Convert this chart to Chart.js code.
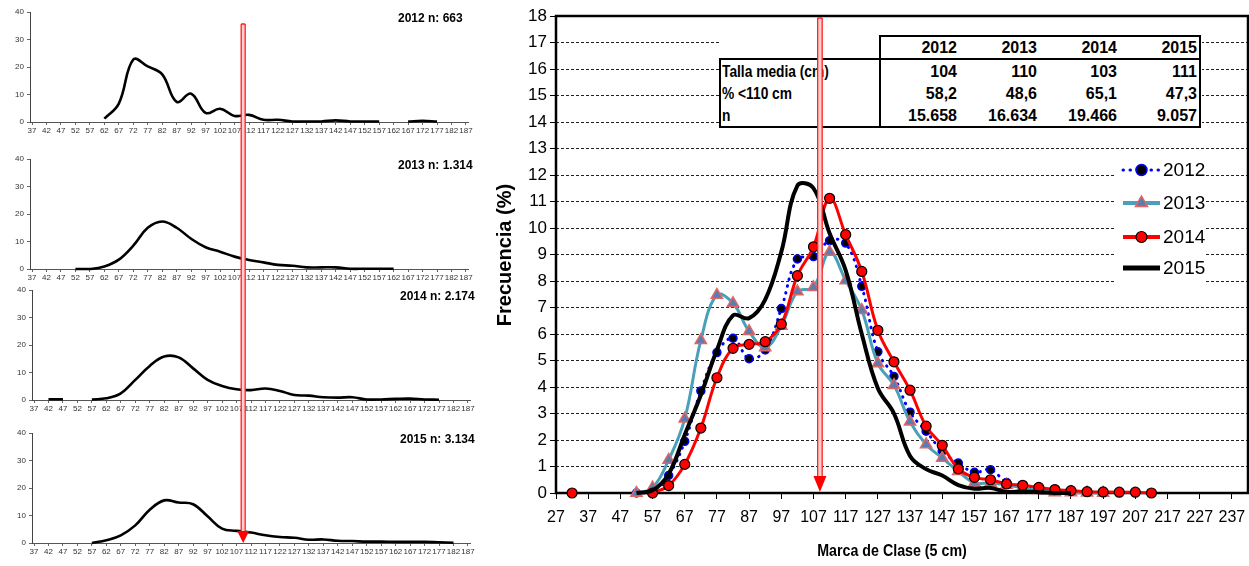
<!DOCTYPE html>
<html>
<head>
<meta charset="utf-8">
<script src="https://cdn.jsdelivr.net/npm/chart.js@4.4.0/dist/chart.umd.min.js"></script>
<style>
  html,body{margin:0;padding:0;background:#fff;}
  body{width:1249px;height:566px;position:relative;overflow:hidden;}
  canvas{position:absolute;}
  .cell{position:absolute;height:20px;line-height:20px;font-weight:bold;font-size:16px;color:#000;white-space:nowrap;
        font-family:'Liberation Sans Narrow','Arial Narrow','Liberation Sans',Arial,sans-serif;z-index:4;}
</style>
</head>
<body>
<canvas id="s0" width="490" height="141" style="left:0;top:1px"></canvas>
<canvas id="s1" width="490" height="141" style="left:0;top:148px"></canvas>
<canvas id="s2" width="490" height="141" style="left:2px;top:279px"></canvas>
<canvas id="s3" width="490" height="141" style="left:2px;top:422px"></canvas>
<canvas id="main" width="766" height="566" style="left:490px;top:0;z-index:1"></canvas>
<div style="position:absolute;left:719px;top:34px;width:483px;height:95px;background:#fff;z-index:2"></div>
<div style="position:absolute;left:879px;top:35px;width:322px;height:25px;border:2px solid #000;box-sizing:border-box;z-index:3"></div>
<div style="position:absolute;left:719px;top:58px;width:482px;height:70px;border:2px solid #000;box-sizing:border-box;z-index:3"></div>
<div style="position:absolute;left:879px;top:58px;width:2px;height:70px;background:#000;z-index:3"></div>
<div id="tbl"></div>
<canvas id="overlay" width="1249" height="566" style="left:0;top:0;z-index:10;pointer-events:none"></canvas>
<script>
// ---------------- DATA ----------------
const CLASSES_MAIN = [32,37,42,47,52,57,62,67,72,77,82,87,92,97,102,107,112,117,122,127,132,137,142,147,152,157,162,167,172,177,182,187,192,197,202,207,212];
const X_TICKS_MAIN = [27,37,47,57,67,77,87,97,107,117,127,137,147,157,167,177,187,197,207,217,227,237];
const Y_TICKS_MAIN = [0,1,2,3,4,5,6,7,8,9,10,11,12,13,14,15,16,17,18];
const YEARS = ['2012','2013','2014','2015'];
const F2012 = [null,null,null,null,0,0.05,0.66,1.95,3.85,5.3,5.84,5.07,5.4,6.96,8.83,8.92,9.52,9.43,7.8,5.33,4.4,3.05,2.33,1.58,1.13,0.78,0.88,0.4,0.25,0.19,0.1,0.06,0.04,0.02,null,null,null];
const F2013 = [null,null,null,null,0,0.2,1.25,2.8,5.76,7.47,7.16,6.1,5.49,6.3,7.6,7.76,9.09,8.02,6.9,4.89,4.07,2.69,1.83,1.32,0.82,0.38,0.38,0.3,0.2,0.1,0.02,0.02,0.01,0,null,null,null];
const F2014 = [0,null,null,null,null,0,0.28,1.08,2.45,4.35,5.46,5.61,5.71,6.37,8.2,9.29,11.12,9.75,8.36,6.14,4.95,3.88,2.52,1.8,0.91,0.59,0.5,0.34,0.29,0.21,0.13,0.09,0.05,0.04,0.03,0.03,0];
const F2015 = [null,null,null,null,0,0.1,0.72,2.2,3.7,5.4,6.7,6.6,7.3,9.1,11.6,11.5,9.8,8.4,6.0,3.95,3.0,1.4,0.9,0.66,0.3,0.16,0.19,0.04,0.06,0.03,0,0,null,null,null,null,null];

const CLASSES_SMALL = [37,42,47,52,57,62,67,72,77,82,87,92,97,102,107,112,117,122,127,132,137,142,147,152,157,162,167,172,177,182,187];
const SMALL_Y_TICKS = [0,10,20,30,40];
const N2012 = [null,null,null,null,null,1.2,6.7,22.7,20.2,17.3,7.3,10.3,3.3,4.8,2.2,2.6,0.8,0.8,0.2,0.2,0.2,0.6,0.2,0.2,0.2,null,0.2,0.4,0.2,null,null];
const N2013 = [null,null,null,0,0,0.9,3.4,8.5,15,17.3,15,11,7.9,6.3,4.5,3.3,2.4,1.5,1.2,0.6,0.6,0.6,0.1,0.1,0.1,0.1,null,null,null,null,null];
const N2014 = [null,0.3,0.3,null,0.2,0.6,2.4,7.3,12.4,15.8,15.5,11.5,7.3,5.1,3.9,3.6,4.2,3.3,1.8,1.6,1.0,0.85,1.0,0.2,0.2,0.4,0.5,0.2,0.1,null,null];
const N2015 = [null,null,null,null,0,1.0,2.8,6.4,12.1,15.5,14.7,14.1,9.7,5.2,4.4,3.8,2.8,2.2,1.9,1.2,1.3,0.8,0.7,0.5,0.5,0.4,0.4,0.4,0.25,0.1,null];
const SMALL_TITLES = ['2012 n: 663','2013 n: 1.314','2014 n: 2.174','2015 n: 3.134'];

const TABLE_ROW_LABELS = ['Talla media (cm)','% <110 cm','n'];
const TABLE_VALUES = [['104','110','103','111'],['58,2','48,6','65,1','47,3'],['15.658','16.634','19.466','9.057']];
const Y_TITLE = 'Frecuencia (%)';
const X_TITLE = 'Marca de Clase (5 cm)';
const CUTOFF_MAIN = 109;
const CUTOFF_SMALL = 109.3;

// ---------------- HELPERS ----------------
const NARROW = "'Liberation Sans Narrow','Arial Narrow','Liberation Sans',Arial,sans-serif";
const ARIAL = "'Liberation Sans',Arial,sans-serif";
function pts(xs, ys){ return xs.map((x,i)=>({x:x, y:ys[i]})); }

function drawMarker(ctx, style, x, y, r, fill, stroke, bw){
  ctx.save();
  ctx.beginPath();
  if(style==='triangle'){
    ctx.moveTo(x, y - r);
    ctx.lineTo(x + r*0.866, y + r*0.5);
    ctx.lineTo(x - r*0.866, y + r*0.5);
    ctx.closePath();
  } else {
    ctx.arc(x, y, r, 0, Math.PI*2);
  }
  ctx.fillStyle = fill; ctx.fill();
  ctx.lineWidth = bw; ctx.strokeStyle = stroke; ctx.stroke();
  ctx.restore();
}

// ---------------- SMALL CHARTS ----------------
const SMALL_SERIES = [N2012, N2013, N2014, N2015];
const smallCharts = [];
const smallTitlePlugin = {
  id:'smallTitle',
  afterDraw(chart){
    const c = chart.ctx, a = chart.chartArea;
    c.save();
    c.font = 'bold 12px ' + ARIAL;
    c.fillStyle = '#000';
    c.textAlign = 'left'; c.textBaseline = 'middle';
    c.fillText(chart.options.plugins.smallTitle.text, 398, a.top + 7);
    c.restore();
  }
};
SMALL_SERIES.forEach((vals, k)=>{
  const ch = new Chart(document.getElementById('s'+k), {
    type:'line',
    data:{datasets:[{data:pts(CLASSES_SMALL, vals), borderColor:'#000', borderWidth:2.6, tension:0.4,
                     pointRadius:0, spanGaps:false, fill:false, clip:false}]},
    options:{
      responsive:false, animation:false, devicePixelRatio:1,
      layout:{padding:{top:11, right:22, left:0, bottom:0}},
      plugins:{legend:{display:false}, tooltip:{enabled:false}, smallTitle:{text:SMALL_TITLES[k]}},
      scales:{
        x:{type:'linear', min:36.3, max:187.7,
           afterBuildTicks:s=>{ s.ticks = CLASSES_SMALL.map(v=>({value:v})); },
           afterFit:s=>{ s.height = 20; s.paddingLeft = 0; s.paddingRight = 0; },
           grid:{drawOnChartArea:false, drawTicks:true, tickLength:3, color:'#666'},
           border:{display:true, color:'#555', width:1},
           ticks:{font:{family:ARIAL, size:8}, color:'#333', padding:1, maxRotation:0, minRotation:0, autoSkip:false}},
        y:{min:0, max:40,
           afterBuildTicks:s=>{ s.ticks = SMALL_Y_TICKS.map(v=>({value:v})); },
           afterFit:s=>{ s.width = 30; s.paddingTop = 0; s.paddingBottom = 0; },
           grid:{drawOnChartArea:false, drawTicks:true, tickLength:3, color:'#666'},
           border:{display:true, color:'#444', width:1},
           ticks:{font:{family:ARIAL, size:8}, color:'#333', padding:3}}
      }
    },
    plugins:[smallTitlePlugin]
  });
  smallCharts.push(ch);
});

// ---------------- MAIN CHART ----------------
const STYLES = [
  {color:'#0000FF', width:3, dash:[0.5,6.5], marker:'circle', r:4, fill:'#000', stroke:'#0000FF', bw:1.5, legW:3},
  {color:'#4AA0B8', width:3, dash:[], marker:'triangle', r:6.5, fill:'#5A7DB0', stroke:'#E06666', bw:1.5, legW:4},
  {color:'#FF0000', width:3, dash:[], marker:'circle', r:5, fill:'#FF0000', stroke:'#000', bw:1.2, legW:4},
  {color:'#000000', width:4, dash:[], marker:null, r:0, fill:'#000', stroke:'#000', bw:0, legW:5}
];
const MAIN_SERIES = [F2012, F2013, F2014, F2015];
const ORDERS = [3,2,1,0];

const framePlugin = {
  id:'frame',
  beforeDatasetsDraw(chart){
    const c = chart.ctx, a = chart.chartArea;
    c.save();
    c.strokeStyle = '#000'; c.lineWidth = 2.5;
    c.strokeRect(a.left, a.top, a.right - a.left, a.bottom - a.top);
    c.restore();
  },
  afterDraw(chart){
    const c = chart.ctx;
    c.save();
    // legend
    c.fillStyle = '#fff';
    c.fillRect(625, 153, 89, 137);
    const ys = [170, 203, 237, 268];
    chart.data.datasets.forEach((ds, i)=>{
      const st = STYLES[i], y = ys[i];
      c.save();
      c.strokeStyle = st.color; c.lineWidth = st.legW; c.lineCap = st.dash.length ? 'round' : 'butt';
      c.setLineDash(st.dash);
      c.beginPath(); c.moveTo(633, y); c.lineTo(670, y); c.stroke();
      c.restore();
      if(st.marker) drawMarker(c, st.marker, 651.5, y, st.marker==='triangle'?7:5.5, st.fill, st.stroke, st.bw);
      c.fillStyle = '#000';
      c.font = '19px ' + NARROW;
      c.textAlign = 'left'; c.textBaseline = 'middle';
      c.fillText(ds.label, 673, y + 1);
    });
    // axis titles
    c.fillStyle = '#000';
    c.font = 'bold 20px ' + ARIAL;
    c.textAlign = 'center'; c.textBaseline = 'middle';
    c.save();
    c.translate(15, 255); c.rotate(-Math.PI/2);
    c.fillText(Y_TITLE, 0, 0);
    c.restore();
    c.save();
    c.font = 'bold 16px ' + NARROW;
    c.translate(402, 552); c.scale(0.89, 1);
    c.fillText(X_TITLE, 0, 0);
    c.restore();
    c.restore();
  }
};

const mainChart = new Chart(document.getElementById('main'), {
  type:'line',
  data:{datasets: MAIN_SERIES.map((vals, i)=>({
    label: YEARS[i],
    data: pts(CLASSES_MAIN, vals),
    borderColor: STYLES[i].color, borderWidth: STYLES[i].width, borderDash: STYLES[i].dash,
    borderCapStyle: STYLES[i].dash.length ? 'round' : 'butt',
    tension: 0.4, spanGaps:false, fill:false, clip:false, order: ORDERS[i],
    pointStyle: STYLES[i].marker || 'circle', pointRadius: STYLES[i].r,
    pointBackgroundColor: STYLES[i].fill, pointBorderColor: STYLES[i].stroke, pointBorderWidth: STYLES[i].bw
  }))},
  options:{
    responsive:false, animation:false, devicePixelRatio:1,
    layout:{padding:{top:16, right:1, left:0, bottom:0}},
    plugins:{legend:{display:false}, tooltip:{enabled:false}},
    scales:{
      x:{type:'linear', min:27, max:242,
         afterBuildTicks:s=>{ s.ticks = X_TICKS_MAIN.map(v=>({value:v})); },
         afterFit:s=>{ s.height = 73; s.paddingLeft = 0; s.paddingRight = 0; },
         grid:{drawOnChartArea:false, drawTicks:true, tickLength:6, color:'#000', lineWidth:1},
         border:{display:false},
         ticks:{font:{family:NARROW, size:16}, color:'#000', padding:9, maxRotation:0, minRotation:0, autoSkip:false}},
      y:{min:0, max:18,
         afterBuildTicks:s=>{ s.ticks = Y_TICKS_MAIN.map(v=>({value:v})); },
         afterFit:s=>{ s.width = 66; s.paddingTop = 0; s.paddingBottom = 0; },
         grid:{color:'#222', lineWidth:1, drawTicks:true, tickLength:6, tickColor:'#000'},
         border:{display:false, dash:[3,2]},
         ticks:{font:{family:NARROW, size:17}, color:'#000', padding:3}}
    }
  },
  plugins:[framePlugin]
});

// ---------------- TABLE ----------------
(function(){
  const host = document.getElementById('tbl');
  const colRight = [957, 1037, 1117, 1197];
  function cell(text, left, right, cy, squeeze){
    const d = document.createElement('div');
    d.className = 'cell';
    d.textContent = text;
    if(right !== null){
      d.style.left = (right - 80) + 'px'; d.style.width = '80px'; d.style.textAlign = 'right';
    } else {
      d.style.left = left + 'px';
    }
    if(squeeze){ d.style.transform = 'scaleX(' + squeeze + ')'; d.style.transformOrigin = 'left center'; }
    d.style.top = (cy - 10) + 'px';
    host.appendChild(d);
  }
  YEARS.forEach((t, j)=> cell(t, null, colRight[j], 48));
  const rowY = [72, 94, 116];
  TABLE_ROW_LABELS.forEach((lab, r)=>{
    cell(lab, 722, null, rowY[r], 0.86);
    TABLE_VALUES[r].forEach((v, j)=> cell(v, null, colRight[j], rowY[r]));
  });
})();

// ---------------- ARROWS ----------------
(function(){
  const c = document.getElementById('overlay').getContext('2d');
  function arrow(x, top, tip, shaftW, headW, headH){
    c.fillStyle = '#ffcfcf';
    c.fillRect(x - shaftW/2, top, shaftW, tip - headH - top);
    c.strokeStyle = '#ff2020'; c.lineWidth = 1.3;
    c.beginPath();
    c.moveTo(x - shaftW/2, top); c.lineTo(x - shaftW/2, tip - headH);
    c.moveTo(x + shaftW/2, top); c.lineTo(x + shaftW/2, tip - headH);
    c.moveTo(x - shaftW/2, top); c.lineTo(x + shaftW/2, top);
    c.stroke();
    c.fillStyle = '#ff0000';
    c.beginPath();
    c.moveTo(x - headW/2, tip - headH); c.lineTo(x + headW/2, tip - headH); c.lineTo(x, tip);
    c.closePath(); c.fill();
  }
  const mx = 490 + mainChart.scales.x.getPixelForValue(CUTOFF_MAIN);
  const mtip = mainChart.scales.y.getPixelForValue(0);
  arrow(mx, 18, mtip - 1, 4.5, 13, 16);
  const s4 = smallCharts[3];
  const sx = 2 + s4.scales.x.getPixelForValue(CUTOFF_SMALL);
  const stip = 422 + s4.scales.y.getPixelForValue(0);
  arrow(sx, 24, stip, 4, 12, 12);
})();
</script>
</body>
</html>
